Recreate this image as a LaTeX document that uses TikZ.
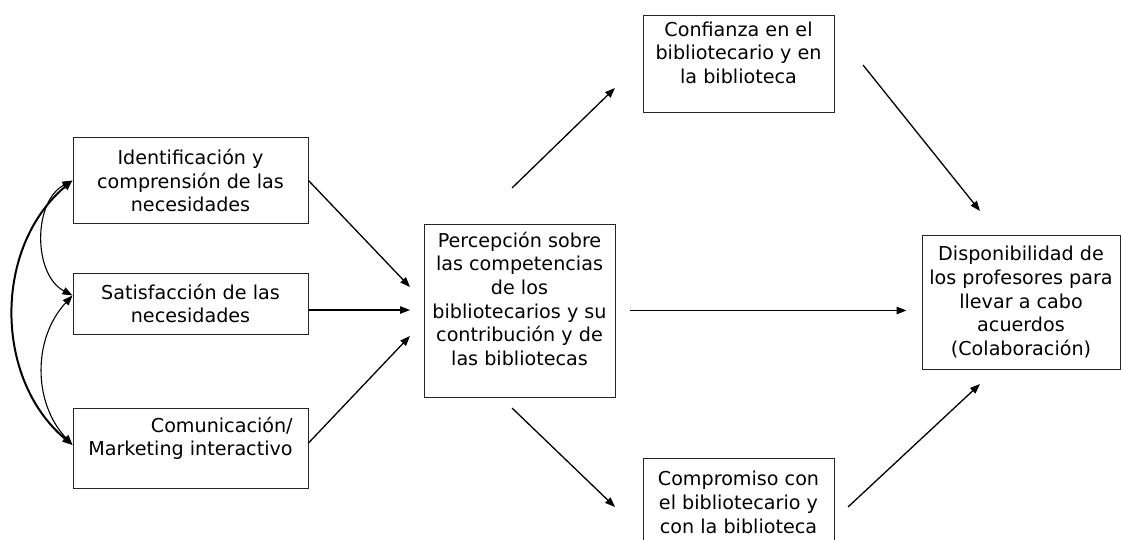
\documentclass[tikz,border=0pt]{standalone}
\usepackage{fontspec}
\setmainfont{DejaVu Sans}
\usetikzlibrary{arrows.meta}
\tikzset{caja/.style={draw=black!85, line width=1pt, align=center, inner sep=0pt,
    font=\fontsize{19.15}{23.6}\selectfont}}
\tikzset{flecha/.style={->, line width=1.3pt}}
\tikzset{lazo/.style={<->, line width=1.1pt}}

\begin{document}
\begin{tikzpicture}[x=1pt, y=-1pt, >={Triangle[length=10pt,width=7.5pt]}]
  \useasboundingbox (0,0) rectangle (1121,540);
  % left column
  \node[caja, minimum width=235pt, minimum height=85pt] (ident) at (190.5,180.5)
    {Identificación y\\comprensión de las\\necesidades};
  \node[caja, minimum width=235pt, minimum height=61pt] (satis) at (190.5,303.5)
    {Satisfacción de las\\necesidades};
  \node[caja, align=right, minimum width=235pt, minimum height=80pt] (comun) at (190.5,448)
    {Comunicación/\\Marketing interactivo\\\mbox{}};
  % middle
  \node[caja, minimum width=191pt, minimum height=173pt] (percep) at (519.5,310.5)
    {Percepción sobre\\las competencias\\de los\\bibliotecarios y su\\contribución y de\\las bibliotecas\\\mbox{}};
  \node[caja, minimum width=191pt, minimum height=97pt] (confi) at (738.5,64.5)
    {Confianza en el\\bibliotecario y en\\la biblioteca\\\mbox{}};
  \node[caja, minimum width=191pt, minimum height=112pt] (compro) at (738.5,514)
    {Compromiso con\\el bibliotecario y\\con la biblioteca\\\mbox{}};
  % right
  \node[caja, minimum width=198pt, minimum height=134pt] (dispo) at (1021,302)
    {Disponibilidad de\\los profesores para\\llevar a cabo\\acuerdos\\(Colaboración)};

  % free arrow ends
  \coordinate (p1) at (410,287);
  \coordinate (p2) at (410,310);
  \coordinate (p3) at (410,336);
  \coordinate (c1) at (512,188);
  \coordinate (c2) at (615,88);
  \coordinate (c3) at (512,408);
  \coordinate (c4) at (615,507);
  \coordinate (d1) at (863,65);
  \coordinate (d2) at (980,211);
  \coordinate (d3) at (848,507);
  \coordinate (d4) at (980,384);

  \draw[flecha] (ident.east) -- (p1);
  \draw[flecha] (satis.east |- p2) -- (p2);
  \draw[flecha] ([yshift=5pt]comun.east) -- (p3);
  \draw[flecha] (c1) -- (c2);
  \draw[flecha] (c3) -- (c4);
  \draw[flecha, shorten <=14pt, shorten >=15pt] (percep.east) -- (percep.east -| dispo.west);
  \draw[flecha] (d1) -- (d2);
  \draw[flecha] (d3) -- (d4);

  % correlations
  \draw[lazo] (ident.west) to[bend right=62] ([yshift=8pt]satis.west);
  \draw[lazo] ([yshift=8pt]satis.west) to[bend right=43] ([yshift=3pt]comun.west);
  \draw[lazo, line width=2pt] (ident.west) to[bend right=50] ([yshift=3pt]comun.west);
\end{tikzpicture}
\end{document}
